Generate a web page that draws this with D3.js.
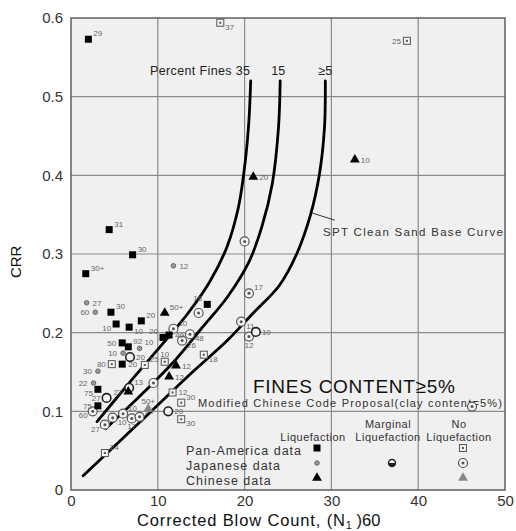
<!DOCTYPE html>
<html>
<head>
<meta charset="utf-8">
<script src="https://cdn.jsdelivr.net/npm/d3@7"></script>
<style>
  body { margin: 0; background: #fff; }
  svg { display: block; font-family: Arial, "Liberation Sans", sans-serif; }
</style>
</head>
<body>
<div id="chart"></div>
<script>
// axis ticks
const xTicks = [0, 10, 20, 30, 40, 50];
const yTicks = [0, 0.1, 0.2, 0.3, 0.4, 0.5, 0.6];

// boundary curves: [N1(60), CRR]
const curve35 = [[3.0, 0.087], [7, 0.14], [10.5, 0.185], [13.5, 0.225], [16, 0.265], [18, 0.31], [19.3, 0.36], [20.1, 0.42], [20.5, 0.47], [20.7, 0.52]];
const curve15 = [[4.0, 0.078], [8, 0.12], [12, 0.165], [15, 0.205], [18, 0.245], [20.5, 0.29], [22, 0.335], [23.2, 0.39], [23.9, 0.46], [24.1, 0.52]];
const curve5 = [[1.4, 0.018], [6, 0.066], [10, 0.108], [14, 0.15], [18, 0.19], [21, 0.225], [24, 0.26], [26, 0.3], [27.6, 0.35], [28.6, 0.4], [29.2, 0.46], [29.3, 0.52]];

// liquefaction, Pan-America (filled square)
const panAmLiq = [[2.0, 0.573, "29"], [4.4, 0.331, "31"], [7.1, 0.299, "30"], [1.7, 0.275, "30+"], [4.6, 0.226, "30"], [5.2, 0.211, "10"], [6.7, 0.207, "10"], [8.1, 0.215, "20"], [5.9, 0.187, "50"], [6.6, 0.182, "92"], [5.9, 0.16, "20"], [3.1, 0.128, "75"], [3.1, 0.107, "75"], [15.7, 0.236, "18"], [10.6, 0.194, "20"], [11.3, 0.197, "40"]];
const panAmSide = ["ru", "ru", "ru", "ru", "ru", "lb", "rb", "ru", "l", "ru", "r", "lb", "l", "lu", "lu", "r"];

// liquefaction, Japanese (small circle)
const japLiq = [[1.8, 0.238, "27"], [2.8, 0.226, "60"], [11.8, 0.285, "12"], [6.0, 0.174, "10"], [7.9, 0.18, "10"], [3.1, 0.151, "30"], [2.6, 0.136, "22"]];
const japSide = ["r", "l", "r", "l", "ru", "l", "l"];

// liquefaction, Chinese (filled triangle)
const chnLiq = [[21.0, 0.398, "20"], [32.7, 0.42, "10"], [10.8, 0.225, "50+"], [6.6, 0.125, "27"], [12.1, 0.158, "12"], [11.3, 0.144, "12"]];
const chnSide = ["r", "r", "ru", "l", "r", "r"];

// marginal liquefaction (open circle)
const marginal = [[6.8, 0.169, "20"], [6.7, 0.13, "13"], [4.1, 0.117, "27"], [21.3, 0.201, "10"], [11.2, 0.1, "20"]];
const marginalSide = ["r", "ru", "l", "r", "r"];

// no liquefaction, Pan-America (dotted square)
const panAmNo = [[17.2, 0.594, "37"], [38.7, 0.571, "25"], [4.7, 0.16, "80"], [8.5, 0.159, "25"], [15.3, 0.172, "18"], [11.7, 0.124, "12"], [12.7, 0.111, "30"], [12.7, 0.09, "30"], [3.9, 0.047, "24"], [10.8, 0.163, "10"]];
const panAmNoSide = ["rb", "l", "l", "ru", "rb", "r", "ru", "rb", "ru", "u"];

// no liquefaction, Japanese (dotted circle)
const japNo = [[20.0, 0.316, ""], [20.5, 0.25, "17"], [19.6, 0.214, "11"], [20.5, 0.195, "12"], [14.7, 0.225, ""], [11.8, 0.205, "10"], [13.7, 0.198, "48"], [12.8, 0.19, "26"], [2.5, 0.1, "60"], [3.9, 0.083, "27"], [4.8, 0.092, "10"], [6.0, 0.097, "10"], [7.0, 0.091, "17"], [7.9, 0.093, "10"], [9.5, 0.136, ""], [46.2, 0.106, ""]];
const japNoSide = ["r", "ru", "rb", "b", "r", "ru", "rb", "rb", "lb", "lb", "rb", "ru", "b", "ru", "r", "r"];

// no liquefaction, Chinese (grey triangle)
const chnNo = [[8.9, 0.103, "50+"]];
const chnNoSide = ["u"];

const width = 516, height = 531;
const margin = { top: 18, right: 11, bottom: 41, left: 71 };

const x = d3.scaleLinear().domain([0, 50]).range([margin.left, width - margin.right]);
const y = d3.scaleLinear().domain([0, 0.6]).range([height - margin.bottom, margin.top]);

const svg = d3.select("#chart").append("svg")
  .attr("width", width)
  .attr("height", height);

// plot background
svg.append("rect")
  .attr("x", x(0)).attr("y", y(0.6))
  .attr("width", x(50) - x(0)).attr("height", y(0) - y(0.6))
  .attr("fill", "#f0f0f0");

// grid
svg.append("g").selectAll("line").data(xTicks.slice(1, -1)).join("line")
  .attr("x1", d => x(d)).attr("x2", d => x(d))
  .attr("y1", y(0)).attr("y2", y(0.6))
  .attr("stroke", "#8a8a8a").attr("stroke-width", 1.2);
svg.append("g").selectAll("line").data(yTicks.slice(1, -1)).join("line")
  .attr("y1", d => y(d)).attr("y2", d => y(d))
  .attr("x1", x(0)).attr("x2", x(50))
  .attr("stroke", "#8a8a8a").attr("stroke-width", 1.2);

svg.append("rect")
  .attr("x", x(0)).attr("y", y(0.6))
  .attr("width", x(50) - x(0)).attr("height", y(0) - y(0.6))
  .attr("fill", "none").attr("stroke", "#555").attr("stroke-width", 1.4);

// axes
svg.append("g")
  .attr("transform", `translate(${x(0)},0)`)
  .call(d3.axisLeft(y).tickValues(yTicks).tickSize(0).tickPadding(8)
    .tickFormat(d => d === 0 ? "0" : d3.format(".1f")(d)))
  .call(g => {
    g.select(".domain").remove();
    g.selectAll(".tick text").style("font-size", "15px").style("fill", "#333")
      .style("font-family", "Arial, 'Liberation Sans', sans-serif");
  });

svg.append("g")
  .attr("transform", `translate(0,${y(0)})`)
  .call(d3.axisBottom(x).tickValues(xTicks).tickSize(0).tickPadding(5))
  .call(g => {
    g.select(".domain").remove();
    g.selectAll(".tick text").style("font-size", "15px").style("fill", "#333")
      .style("font-family", "Arial, 'Liberation Sans', sans-serif");
  });

// axis titles
const xTitle = svg.append("text")
  .attr("x", 137).attr("y", 526)
  .style("font-size", "16.5px").style("fill", "#111");
xTitle.append("tspan").attr("textLength", 208).text("Corrected Blow Count, (N");
xTitle.append("tspan").attr("dy", 3).style("font-size", "11px").text("1");
xTitle.append("tspan").attr("dy", -3).text(" )60");

svg.append("text")
  .attr("transform", `translate(21,${y(0.29)}) rotate(-90)`)
  .attr("text-anchor", "middle")
  .style("font-size", "15px").style("fill", "#111")
  .text("CRR");

// curves
const line = d3.line().x(d => x(d[0])).y(d => y(d[1])).curve(d3.curveCatmullRom.alpha(0.5));
svg.append("g").selectAll("path").data([curve35, curve15, curve5]).join("path")
  .attr("d", line)
  .attr("fill", "none").attr("stroke", "#000").attr("stroke-width", 2.8)
  .attr("stroke-linecap", "round");

// curve annotations
svg.append("text").attr("x", 150).attr("y", 75)
  .attr("textLength", 100)
  .style("font-size", "12.5px").style("fill", "#222").text("Percent Fines 35");
svg.append("text").attr("x", x(24.1) - 2).attr("y", 75).attr("text-anchor", "middle")
  .style("font-size", "12.5px").style("fill", "#222").text("15");
svg.append("text").attr("x", x(29.3)).attr("y", 75).attr("text-anchor", "middle")
  .style("font-size", "12.5px").style("fill", "#222").text("≥5");

svg.append("line")
  .attr("x1", x(27.8)).attr("y1", y(0.352))
  .attr("x2", x(30.4)).attr("y2", y(0.343))
  .attr("stroke", "#333").attr("stroke-width", 1);
svg.append("text").attr("x", 323).attr("y", 236)
  .attr("textLength", 180)
  .style("font-size", "11.5px").style("fill", "#333")
  .text("SPT Clean Sand Base Curve");

svg.append("text").attr("x", 253).attr("y", 393)
  .attr("textLength", 202)
  .style("font-size", "19px").style("fill", "#111")
  .text("FINES CONTENT≥5%");
svg.append("text").attr("x", 198).attr("y", 407)
  .attr("textLength", 304)
  .style("font-size", "11px").style("fill", "#333")
  .text("Modified Chinese Code Proposal(clay content=5%)");

// symbol drawing
const symbols = {
  panAmLiq: g => g.append("rect").attr("x", -3.5).attr("y", -3.5).attr("width", 7).attr("height", 7).attr("fill", "#000"),
  japLiq: g => g.append("circle").attr("r", 2.3).attr("fill", "#999").attr("stroke", "#555").attr("stroke-width", 0.8),
  chnLiq: g => g.append("path").attr("d", d3.symbol(d3.symbolTriangle, 42)()).attr("fill", "#000"),
  marginal: g => g.append("circle").attr("r", 4.3).attr("fill", "#f4f4f4").attr("stroke", "#222").attr("stroke-width", 1.6),
  panAmNo: g => {
    g.append("rect").attr("x", -3.5).attr("y", -3.5).attr("width", 7).attr("height", 7)
      .attr("fill", "#f4f4f4").attr("stroke", "#555").attr("stroke-width", 1);
    g.append("rect").attr("x", -1).attr("y", -1).attr("width", 2).attr("height", 2).attr("fill", "#555");
  },
  japNo: g => {
    g.append("circle").attr("r", 4.5).attr("fill", "#f4f4f4").attr("stroke", "#555").attr("stroke-width", 1.2);
    g.append("circle").attr("r", 1.5).attr("fill", "#555");
  },
  chnNo: g => g.append("path").attr("d", d3.symbol(d3.symbolTriangle, 42)()).attr("fill", "#888")
};

const labelOffset = {
  r: [6, 3, "start"], l: [-6, 3, "end"], ru: [5, -3, "start"], rb: [5, 7, "start"],
  lu: [-5, -3, "end"], lb: [-5, 7, "end"], b: [0, 11, "middle"], u: [0, -5, "middle"]
};

function drawSeries(data, sides, kind) {
  const g = svg.append("g");
  data.forEach((d, i) => {
    const p = g.append("g").attr("transform", `translate(${x(d[0])},${y(d[1])})`);
    symbols[kind](p);
    if (d[2]) {
      const o = labelOffset[sides[i]];
      p.append("text").attr("x", o[0]).attr("y", o[1]).attr("text-anchor", o[2])
        .style("font-size", "8px").style("fill", "#666").text(d[2]);
    }
  });
}

drawSeries(japNo, japNoSide, "japNo");
drawSeries(panAmNo, panAmNoSide, "panAmNo");
drawSeries(chnNo, chnNoSide, "chnNo");
drawSeries(marginal, marginalSide, "marginal");
drawSeries(japLiq, japSide, "japLiq");
drawSeries(panAmLiq, panAmSide, "panAmLiq");
drawSeries(chnLiq, chnSide, "chnLiq");

// legend
const legendCols = ["Liquefaction", "Marginal", "No"];
const legendCols2 = ["", "Liquefaction", "Liquefaction"];
const legendColX = [313, 388, 459];
const legendRows = ["Pan-America data", "Japanese data", "Chinese data"];
const legendRowY = [450, 465, 480];
const legend = svg.append("g").style("fill", "#333");
legendCols.forEach((t, i) => {
  legend.append("text").attr("x", legendColX[i]).attr("y", i === 0 ? 441 : 428)
    .attr("text-anchor", "middle").style("font-size", "11px").style("letter-spacing", "0.5px").text(t);
  if (legendCols2[i]) {
    legend.append("text").attr("x", legendColX[i]).attr("y", 441)
      .attr("text-anchor", "middle").style("font-size", "11px").style("letter-spacing", "0.5px").text(legendCols2[i]);
  }
});
legendRows.forEach((t, i) => {
  legend.append("text").attr("x", 186).attr("y", legendRowY[i] + 5)
    .style("font-size", "12.5px").style("letter-spacing", "1px").text(t);
});
const legendKinds = [["panAmLiq", "japLiq", "chnLiq"], [null, "marginal", null], ["panAmNo", "japNo", "chnNo"]];
legendKinds.forEach((col, ci) => col.forEach((k, ri) => {
  if (!k) return;
  const p = svg.append("g").attr("transform", `translate(${legendColX[ci] + 4},${legendRowY[ri] - 2})`);
  if (k === "marginal") {
    p.append("circle").attr("r", 3.5).attr("fill", "#fff").attr("stroke", "#222").attr("stroke-width", 1.4);
    p.append("path").attr("d", d3.arc()({ innerRadius: 0, outerRadius: 3.5, startAngle: Math.PI / 2, endAngle: Math.PI * 1.5 })).attr("fill", "#222");
  } else {
    symbols[k](p);
  }
}));
</script>
</body>
</html>
